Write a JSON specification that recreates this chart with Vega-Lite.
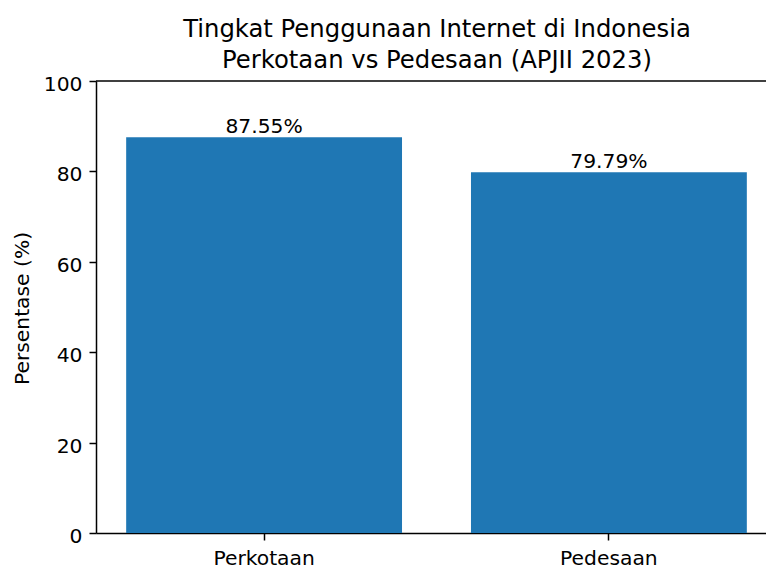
{
  "$schema": "https://vega.github.io/schema/vega-lite/v6.json",
  "width": 670,
  "height": 452,
  "autosize": {"type": "none"},
  "padding": {"left": 96, "top": 81, "right": 0, "bottom": 35},
  "background": "white",
  "config": {"view": {"stroke": null}, "font": "DejaVu Sans"},
  "title": {
    "text": ["Tingkat Penggunaan Internet di Indonesia", "Perkotaan vs Pedesaan (APJII 2023)"],
    "fontSize": 24.3,
    "fontWeight": "normal",
    "font": "DejaVu Sans",
    "color": "#000",
    "lineHeight": 31,
    "anchor": "middle",
    "baseline": "bottom",
    "offset": 6,
    "dx": 6,
    "dy": 29
  },
  "data": {"values": [
    {"wilayah": "Perkotaan", "persentase": 87.55},
    {"wilayah": "Pedesaan", "persentase": 79.79}
  ]},
  "layer": [
    {
      "mark": {"type": "bar", "color": "#1f77b4"},
      "encoding": {
        "x": {
          "field": "wilayah", "type": "nominal", "sort": null,
          "scale": {"range": [0, 681], "paddingInner": 0.2, "paddingOuter": 0.0875},
          "axis": {
            "labelAngle": 0, "title": null,
            "domainColor": "#000", "domainWidth": 1.5,
            "tickColor": "#000", "tickWidth": 1.5, "tickSize": 7,
            "labelFontSize": 20.3, "labelColor": "#000", "labelFont": "DejaVu Sans",
            "labelPadding": 24, "labelBaseline": "alphabetic"
          }
        },
        "y": {
          "field": "persentase", "type": "quantitative",
          "scale": {"domain": [0, 100], "nice": false},
          "axis": {
            "values": [0, 20, 40, 60, 80, 100],
            "grid": false,
            "domainColor": "#000", "domainWidth": 1.5,
            "tickColor": "#000", "tickWidth": 1.5, "tickSize": 7,
            "labelFontSize": 20.3, "labelColor": "#000", "labelFont": "DejaVu Sans",
            "labelPadding": 7, "labelBaseline": "alphabetic", "labelOffset": 9.5, "labelOverlap": false,
            "title": "Persentase (%)", "titleFontSize": 20.3, "titleFontWeight": "normal",
            "titleColor": "#000", "titleFont": "DejaVu Sans",
            "titleX": -74, "titleY": 227, "titleAngle": -90, "titleAlign": "center", "titleBaseline": "middle"
          }
        }
      }
    },
    {
      "transform": [{"calculate": "format(datum.persentase, '.2f') + '%'", "as": "label"}],
      "mark": {"type": "text", "baseline": "alphabetic", "dy": -4.7, "fontSize": 20.3, "font": "DejaVu Sans", "color": "#000"},
      "encoding": {
        "x": {"field": "wilayah", "type": "nominal", "sort": null},
        "y": {"field": "persentase", "type": "quantitative"},
        "text": {"field": "label"}
      }
    },
    {
      "data": {"values": [{}]},
      "mark": {"type": "rule", "color": "#000", "strokeWidth": 1.5},
      "encoding": {"y": {"datum": 100, "type": "quantitative"}}
    }
  ]
}
